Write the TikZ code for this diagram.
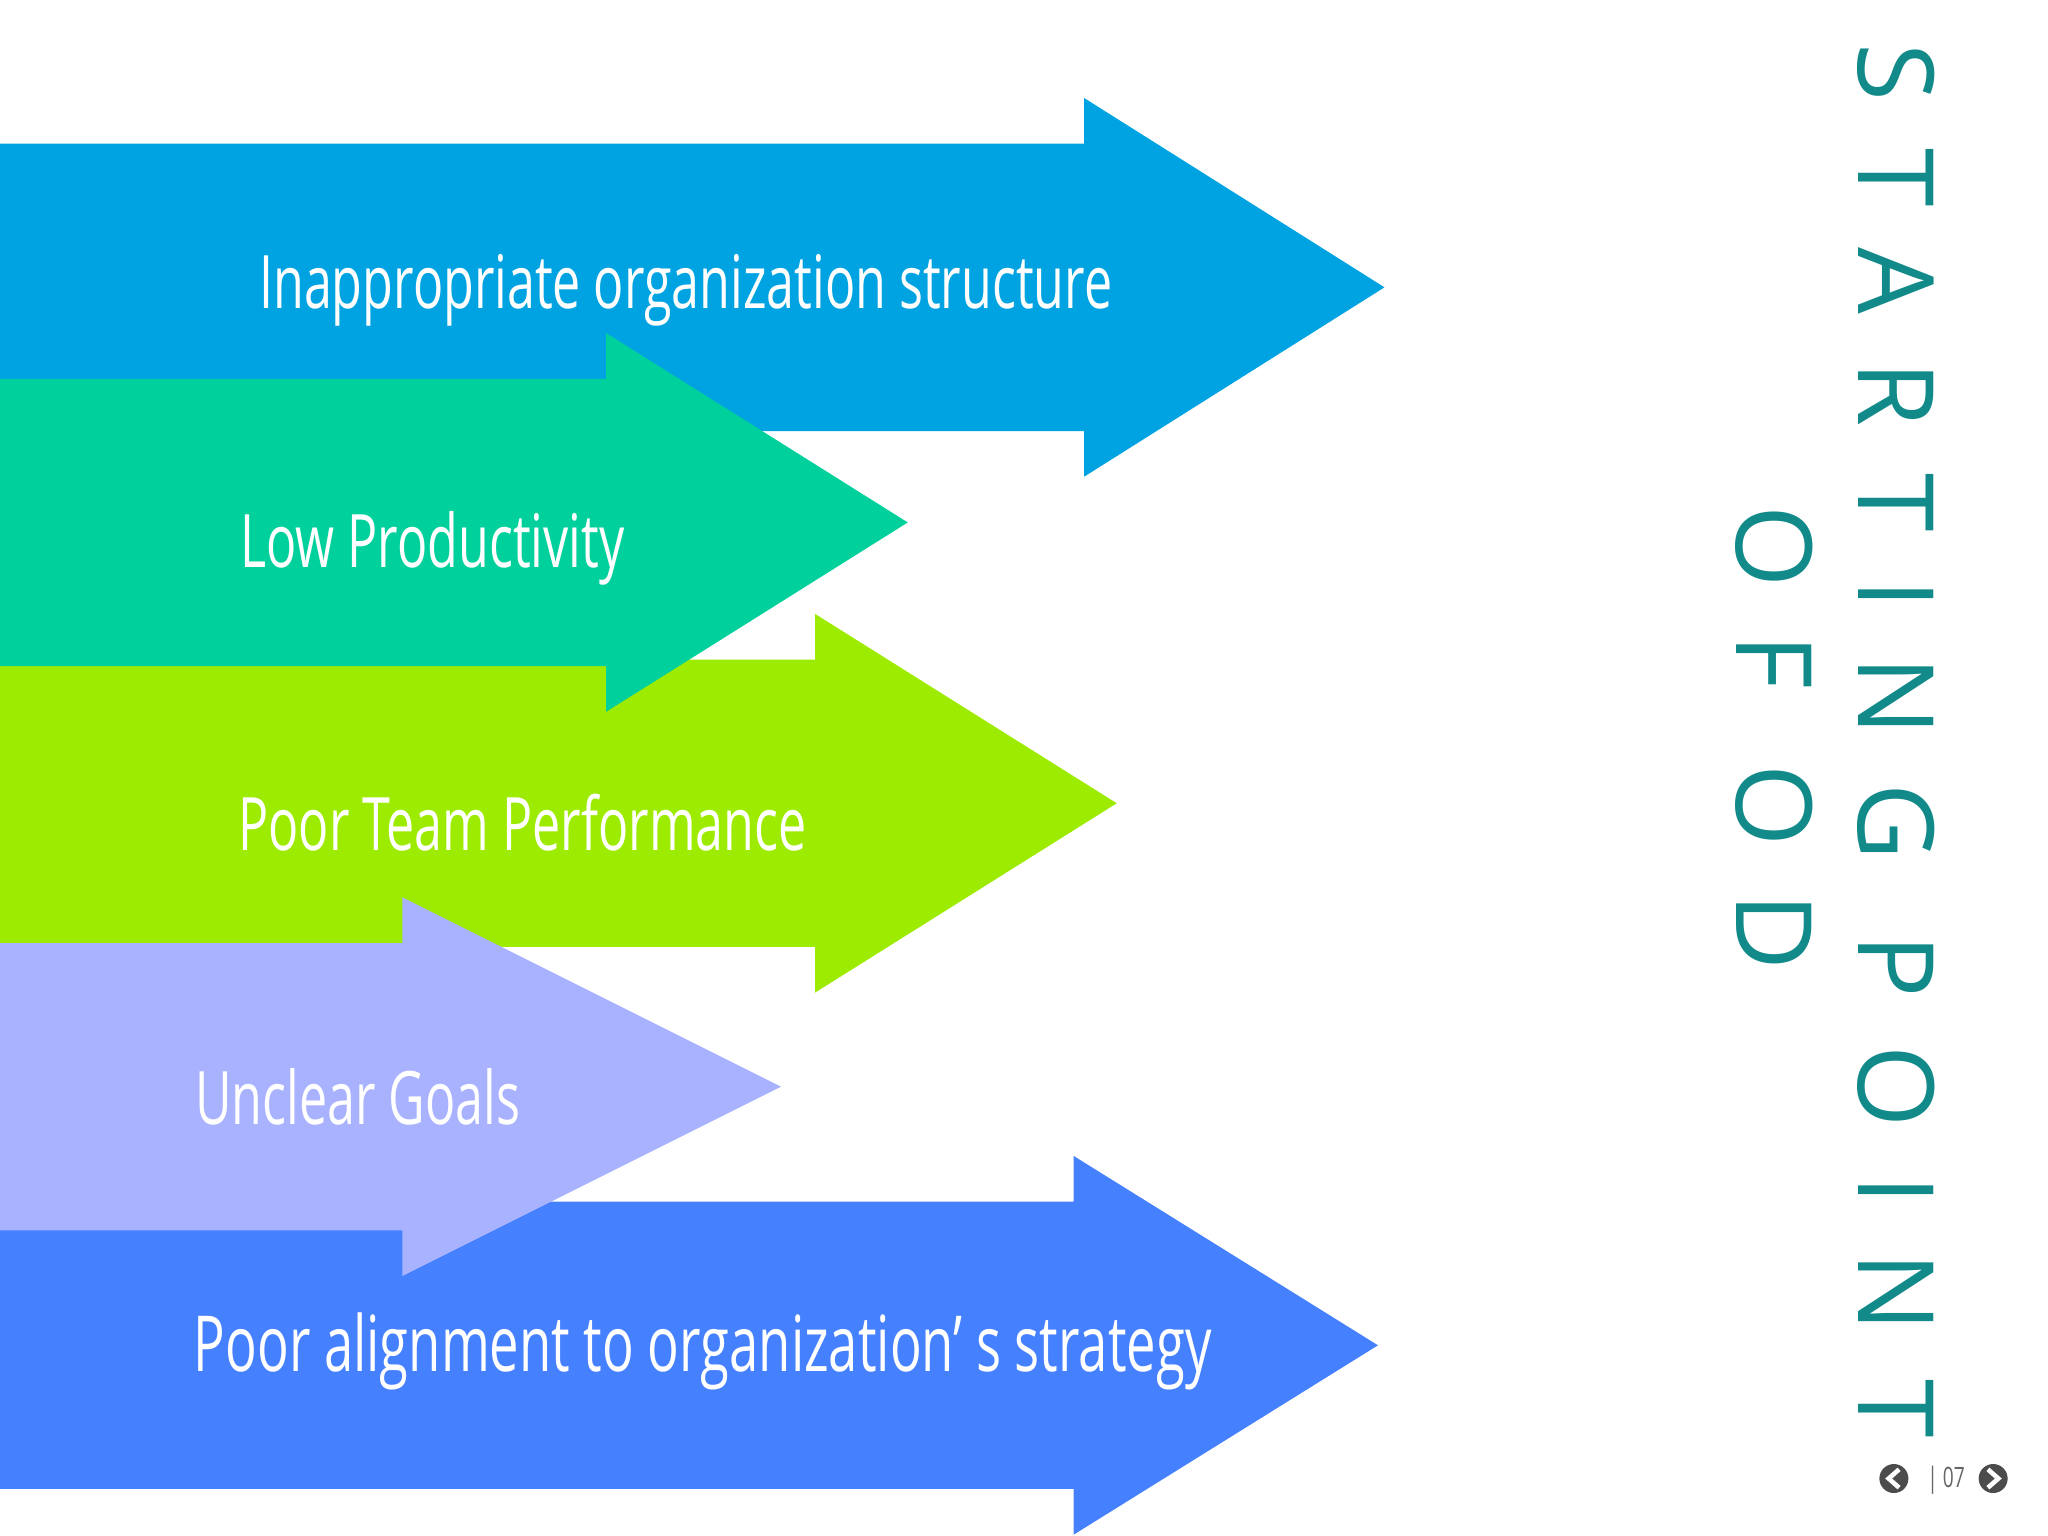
\documentclass[tikz,border=0pt]{standalone}
\usepackage{fontspec}
\setmainfont{Open Sans}
\newfontfamily\condfont[FakeStretch=0.68]{Open Sans}
\newfontfamily\titlefont[LetterSpace=45]{Open Sans}
\begin{document}
\begin{tikzpicture}[x=0.013061cm,y=-0.013061cm]
\definecolor{cA}{HTML}{00A3E2}
\definecolor{cB}{HTML}{00D19C}
\definecolor{cC}{HTML}{9DEB00}
\definecolor{cD}{HTML}{A8B2FF}
\definecolor{cE}{HTML}{4580FF}
\definecolor{ttl}{HTML}{138A8A}
\tikzset{lbl/.style={text=white,font=\condfont\fontsize{21}{24}\selectfont,inner sep=0pt},
 nav/.style={circle,fill=black!70,minimum size=0.29cm,inner sep=0pt}}
\useasboundingbox (0,0) rectangle (1568,1176);
\fill[cA] (0,110) -- (830,110) -- (830,75) -- (1060,220) -- (830,365) -- (830,330) -- (0,330) -- cycle;
\fill[cC] (0,505) -- (624,505) -- (624,470) -- (855,615) -- (624,760) -- (624,725) -- (0,725) -- cycle;
\fill[cB] (0,290) -- (464,290) -- (464,255) -- (695,400) -- (464,545) -- (464,510) -- (0,510) -- cycle;
\fill[cE] (0,920) -- (822,920) -- (822,885) -- (1055,1030) -- (822,1175) -- (822,1140) -- (0,1140) -- cycle;
\fill[cD] (0,722) -- (308,722) -- (308,687) -- (598,832) -- (308,977) -- (308,942) -- (0,942) -- cycle;
\node[lbl] (t1) at (525,222) {Inappropriate organization structure};
\node[lbl] (t2) at (331,420) {Low Productivity};
\node[lbl] (t3) at (400,630) {Poor Team Performance};
\node[lbl] (t4) at (274,840) {Unclear Goals};
\node[lbl,font=\condfont\fontsize{22}{24}\selectfont] (t5) at (538,1035) {Poor alignment to organization’ s strategy};
\node[text=ttl,rotate=-90,font=\titlefont\fontsize{30}{34}\selectfont,inner sep=0pt] (h1) at (1452,567) {STARTING POINT};
\node[text=ttl,rotate=-90,font=\titlefont\fontsize{30}{34}\selectfont,inner sep=0pt] (h2) at (1358,565) {OF OD};
\node[nav] (n1) at (1450,1132) {};
\node[nav] (n2) at (1526,1132) {};
\draw[white,line width=1.3pt] (1454,1125) -- (1446,1132) -- (1454,1139);
\draw[white,line width=1.3pt] (1522,1125) -- (1530,1132) -- (1522,1139);
\node[text=black!60,font=\condfont\fontsize{8}{9}\selectfont] (pg) at (1490,1133) {\textbar\ 07};
\end{tikzpicture}
\end{document}
